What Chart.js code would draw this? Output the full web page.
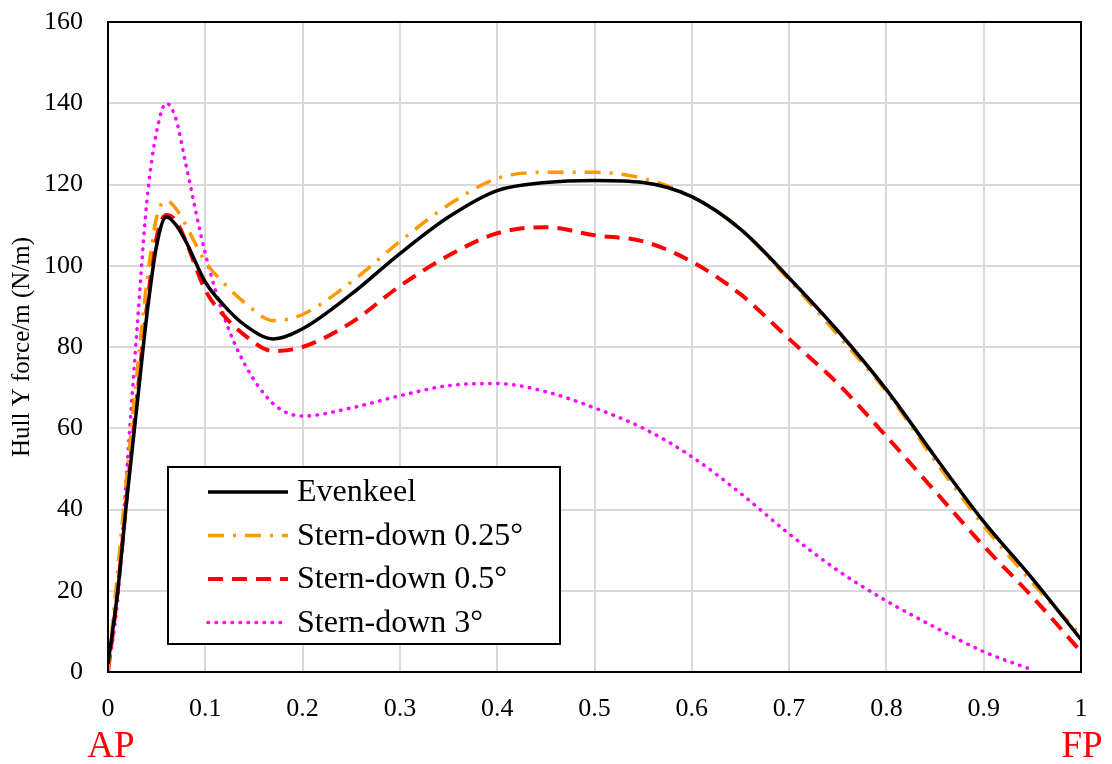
<!DOCTYPE html>
<html>
<head>
<meta charset="utf-8">
<script src="https://cdn.jsdelivr.net/npm/chart.js@4.4.1/dist/chart.umd.min.js"></script>
<style>
  html, body { margin: 0; padding: 0; background: #fff; }
  #wrap { width: 1112px; height: 764px; position: relative; }
</style>
</head>
<body>
<div id="wrap"><canvas id="myChart"></canvas></div>
<script>
// DATA
const xPos = [0, 0.01, 0.02, 0.03, 0.04, 0.05, 0.06, 0.07, 0.08, 0.1, 0.12, 0.14, 0.17, 0.2, 0.25,
    0.3, 0.35, 0.4, 0.45, 0.5, 0.55, 0.6, 0.65, 0.7, 0.75, 0.8, 0.85, 0.9, 0.95, 1.0];
const evenkeel = [2, 20, 44, 66, 88, 105, 112, 110, 106, 96, 90, 85.5, 82, 84.5, 93,
    103, 112, 118.5, 120.5, 121, 120.5, 117, 109, 97, 84, 69.5, 53, 37, 23, 8];
const stern025 = [0, 25, 50, 74, 96, 112, 116, 114, 110, 101, 95.5, 91, 86.5, 88, 96,
    106, 115, 121.5, 123, 123, 121.5, 117, 109, 96.5, 83, 69, 52, 36, 22, 9];
const stern05 = [0, 20, 45, 68, 90, 107, 112.5, 111, 106, 94, 87.5, 83, 79, 80, 86,
    95, 102.5, 108, 109.5, 107.5, 106, 101, 93, 82, 71, 58, 44.5, 31, 18.5, 5];
const stern3 = [0, 18, 52, 85, 116, 133, 140, 136, 125, 103, 87, 76, 66, 63, 65,
    68, 70.5, 71, 69, 65, 60, 53, 44, 34, 25, 17.5, 11, 5, 0.5, null];
const xTicks = [0, 0.1, 0.2, 0.3, 0.4, 0.5, 0.6, 0.7, 0.8, 0.9, 1];
const yTicks = [0, 20, 40, 60, 80, 100, 120, 140, 160];

const FONT = '"Liberation Serif", "Times New Roman", serif';

function toPoints(ys) {
    return xPos.map((x, i) => ({ x: x, y: ys[i] }));
}

// draws the box around the plot, the inner legend and the AP / FP marks
const extrasPlugin = {
    id: 'extras',
    afterDraw(chart) {
        const ctx = chart.ctx;
        const a = chart.chartArea;
        ctx.save();
        ctx.strokeStyle = '#000';
        ctx.lineWidth = 2;
        ctx.strokeRect(a.left, a.top, a.right - a.left, a.bottom - a.top);

        // legend
        const bx = 168, by = 467, bw = 392, bh = 177;
        ctx.fillStyle = '#fff';
        ctx.fillRect(bx, by, bw, bh);
        ctx.strokeStyle = '#000';
        ctx.lineWidth = 2;
        ctx.strokeRect(bx, by, bw, bh);
        ctx.font = '32px ' + FONT;
        ctx.textBaseline = 'middle';
        chart.data.datasets.forEach((ds, i) => {
            const yy = by + 25 + i * 43.5;
            ctx.beginPath();
            ctx.strokeStyle = ds.borderColor;
            ctx.lineWidth = ds.borderWidth;
            ctx.lineCap = ds.borderCapStyle || 'butt';
            ctx.setLineDash(ds.borderDash || []);
            ctx.moveTo(208, yy);
            ctx.lineTo(288, yy);
            ctx.stroke();
            ctx.setLineDash([]);
            ctx.fillStyle = '#000';
            ctx.textAlign = 'left';
            ctx.fillText(ds.label, 297, yy + 1);
        });

        // AP / FP labels under the axis
        const xs = chart.scales.x;
        ctx.fillStyle = '#ff0000';
        ctx.font = '37px ' + FONT;
        ctx.textAlign = 'center';
        ctx.textBaseline = 'middle';
        ctx.fillText('AP', xs.getPixelForValue(0) + 3, 747);
        ctx.fillText('FP', xs.getPixelForValue(1) + 1, 747);
        ctx.restore();
    }
};

const lineConfig = {
    type: 'line',
    data: {
        datasets: [
            {
                label: 'Evenkeel',
                data: toPoints(evenkeel),
                borderColor: '#000000',
                borderWidth: 3.5,
                borderDash: []
            },
            {
                label: 'Stern-down 0.25°',
                data: toPoints(stern025),
                borderColor: '#ff9900',
                borderWidth: 3.5,
                borderDash: [16, 9, 3, 9]
            },
            {
                label: 'Stern-down 0.5°',
                data: toPoints(stern05),
                borderColor: '#ff0000',
                borderWidth: 4,
                borderDash: [15, 9]
            },
            {
                label: 'Stern-down 3°',
                data: toPoints(stern3),
                borderColor: '#ff00ff',
                borderWidth: 3.5,
                borderCapStyle: 'round',
                borderDash: [0.5, 7.5]
            }
        ]
    },
    options: {
        responsive: true,
        maintainAspectRatio: false,
        animation: false,
        layout: { padding: { left: 0, right: 31, top: 22, bottom: 0 } },
        elements: {
            point: { radius: 0 },
            line: { cubicInterpolationMode: 'monotone', fill: false }
        },
        plugins: {
            legend: { display: false },
            tooltip: { enabled: false }
        },
        scales: {
            x: {
                type: 'linear',
                min: 0,
                max: 1,
                afterFit: s => { s.height = 92; s.paddingLeft = 0; s.paddingRight = 0; },
                afterBuildTicks: s => { s.ticks = xTicks.map(v => ({ value: v })); },
                grid: { color: '#d9d9d9', lineWidth: 2, drawTicks: false },
                border: { display: false },
                ticks: {
                    padding: 22,
                    color: '#000',
                    font: { family: FONT, size: 26 },
                    callback: v => String(v)
                }
            },
            y: {
                min: 0,
                max: 160,
                afterFit: s => { s.width = 108; s.paddingTop = 0; s.paddingBottom = 0; },
                afterBuildTicks: s => { s.ticks = yTicks.map(v => ({ value: v })); },
                grid: { color: '#d9d9d9', lineWidth: 2, drawTicks: false },
                border: { display: false },
                title: {
                    display: true,
                    text: 'Hull Y force/m (N/m)',
                    color: '#000',
                    font: { family: FONT, size: 25 },
                    padding: { top: 7, bottom: 0 }
                },
                ticks: {
                    padding: 25,
                    color: '#000',
                    font: { family: FONT, size: 26 }
                }
            }
        }
    },
    plugins: [extrasPlugin]
};

function initCharts() {
    const canvas = document.getElementById('myChart');
    if (canvas) {
        new Chart(canvas.getContext('2d'), lineConfig);
    }
}

if (document.readyState === 'loading') {
    document.addEventListener('DOMContentLoaded', initCharts);
} else {
    initCharts();
}
</script>
</body>
</html>
